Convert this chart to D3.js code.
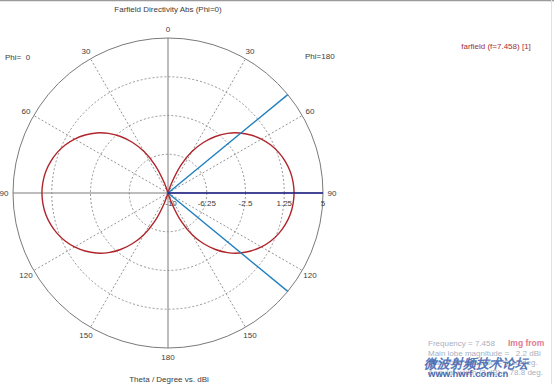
<!DOCTYPE html>
<html><head><meta charset="utf-8">
<script src="https://cdn.jsdelivr.net/npm/d3@7"></script>
<style>
html,body{margin:0;padding:0;background:#fff;}
text{font-family:"Liberation Sans",Arial,sans-serif;white-space:pre;}
</style></head>
<body>
<svg id="c" width="554" height="384"></svg>
<script>
// ---- data ----
const thetaDeg = [0,5,10,15,20,25,30,35,40,45,50,55,60,65,70,75,80,85,90,95,100,105,110,115,120,125,130,135,140,145,150,155,160,165,170,175,180];
const phi0Dbi   = [-30,-21.1,-15.0,-11.5,-8.95,-6.99,-5.37,-4.03,-2.86,-1.84,-0.96,-0.21,0.44,0.98,1.42,1.76,2.01,2.15,2.2,2.15,2.01,1.76,1.42,0.98,0.44,-0.21,-0.96,-1.84,-2.86,-4.03,-5.37,-6.99,-8.95,-11.5,-15.0,-21.1,-30];
const phi180Dbi = [-30,-21.1,-15.0,-11.5,-8.95,-6.99,-5.37,-4.03,-2.86,-1.84,-0.96,-0.21,0.44,0.98,1.42,1.76,2.01,2.15,2.2,2.15,2.01,1.76,1.42,0.98,0.44,-0.21,-0.96,-1.84,-2.86,-4.03,-5.37,-6.99,-8.95,-11.5,-15.0,-21.1,-30];
const radialTicks = [-10,-6.25,-2.5,1.25,5];
const radialTickLabels = ["-10","-6.25","-2.5","1.25","5"];
const angleTicks = [0,30,60,90,120,150,180];
const mainLobeDir = 90;
const beamEdges = [50.6,129.4];
const infoLines = ["Frequency = 7.458","Main lobe magnitude =   2.2 dBi","Main lobe direction = 90.0 deg.","Angular width (3 dB) = 78.8 deg."];

// ---- layout ----
const svg = d3.select("#c");
const cx = 168, cy = 193, R = 155;
const r = d3.scaleLinear().domain([-10,5]).range([0,R]).clamp(true);
const rad = d => d*Math.PI/180;
const g = svg.append("g").attr("transform",`translate(${cx},${cy})`);
const grey = "#8a8a8a";

// frame lines
svg.append("line").attr("x1",0).attr("x2",554).attr("y1",0.5).attr("y2",0.5).attr("stroke","#9a9a9a").attr("stroke-width",1.5);
svg.append("line").attr("x1",551.5).attr("x2",551.5).attr("y1",0).attr("y2",384).attr("stroke","#e2e2e2").attr("stroke-width",1);

// rings
g.selectAll("circle.ring").data(radialTicks.slice(1,-1)).enter().append("circle")
  .attr("r",d=>r(d)).attr("fill","none").attr("stroke",grey).attr("stroke-width",0.9).attr("stroke-dasharray","2,2");
g.append("circle").attr("r",r(5)).attr("fill","none").attr("stroke","#7a7a7a").attr("stroke-width",1);

// spokes
[30,60,120,150].forEach(a=>{
  [1,-1].forEach(s=>{
    g.append("line").attr("x1",0).attr("y1",0)
      .attr("x2",s*R*Math.sin(rad(a))).attr("y2",-R*Math.cos(rad(a)))
      .attr("stroke",grey).attr("stroke-width",0.9).attr("stroke-dasharray","2,2");
  });
});
g.append("line").attr("x1",0).attr("x2",0).attr("y1",-R).attr("y2",R).attr("stroke","#7a7a7a").attr("stroke-width",1);
g.append("line").attr("x1",-R).attr("x2",R).attr("y1",0).attr("y2",0).attr("stroke","#7a7a7a").attr("stroke-width",1);

// angle labels
const lab = "#3c3c3c";
angleTicks.forEach(a=>{
  const sides = (a===0||a===180)?[1]:[1,-1];
  sides.forEach(s=>{
    const rr = 164;
    g.append("text").attr("x",s*rr*Math.sin(rad(a))).attr("y",-rr*Math.cos(rad(a)))
      .attr("dy","0.35em").attr("text-anchor","middle").attr("font-size",8).attr("fill",lab).text(a);
  });
});

// radial labels
radialTicks.forEach((t,i)=>{
  g.append("text").attr("x",r(t)+(i===0?3:0)).attr("y",13).attr("text-anchor","middle")
    .attr("font-size",8).attr("fill",lab).text(radialTickLabels[i]);
});

// pattern
const pts = (vals)=>thetaDeg.map((t,i)=>({t, v:vals[i]}));
const lineR = s => d3.lineRadial().angle(d=>s*rad(d.t)).radius(d=>r(d.v)).curve(d3.curveCatmullRom);
g.append("path").attr("d",lineR(-1)(pts(phi0Dbi))).attr("fill","none").attr("stroke","#b0252b").attr("stroke-width",1.4);
g.append("path").attr("d",lineR(1)(pts(phi180Dbi))).attr("fill","none").attr("stroke","#b0252b").attr("stroke-width",1.4);

// beam lines
beamEdges.forEach(a=>{
  g.append("line").attr("x1",0).attr("y1",0).attr("x2",R*Math.sin(rad(a))).attr("y2",-R*Math.cos(rad(a)))
    .attr("stroke","#1f7fbf").attr("stroke-width",1.4);
});
g.append("line").attr("x1",0).attr("y1",0).attr("x2",R*Math.sin(rad(mainLobeDir))).attr("y2",-R*Math.cos(rad(mainLobeDir)))
  .attr("stroke","#1c1f8a").attr("stroke-width",1.4);

// titles
svg.append("text").attr("x",168).attr("y",12).attr("text-anchor","middle").attr("font-size",8).attr("fill",lab).text("Farfield Directivity Abs (Phi=0)");
svg.append("text").attr("x",169).attr("y",382).attr("text-anchor","middle").attr("font-size",8).attr("fill",lab).text("Theta / Degree vs. dBi");
svg.append("text").attr("x",5).attr("y",60).attr("font-size",8).attr("fill",lab).text("Phi=  0");
svg.append("text").attr("x",305).attr("y",59).attr("font-size",8).attr("fill",lab).text("Phi=180");
svg.append("text").attr("x",496).attr("y",49).attr("text-anchor","middle").attr("font-size",8).attr("fill","#a0303a").text("farfield (f=7.458) [1]");

// info block (watermarked)
infoLines.forEach((s,i)=>{
  svg.append("text").attr("x",428).attr("y",346+i*9.5).attr("font-size",8).attr("fill","#aab0bf").text(s);
});
svg.append("text").attr("x",508).attr("y",346).attr("font-size",8.5).attr("font-weight","bold").attr("fill","#e07a95").text("Img from");
svg.append("text").attr("x",424).attr("y",368).attr("font-size",13).attr("font-weight","bold").attr("font-style","italic")
  .attr("font-family","Noto Sans CJK SC").attr("fill","#3a5fae").attr("opacity",0.85).text("微波射频技术论坛");
svg.append("text").attr("x",428).attr("y",377).attr("font-size",9.5).attr("font-weight","bold").attr("fill","#3a5fae").attr("opacity",0.9).text("www.hwrf.com.cn");
</script>
</body></html>
